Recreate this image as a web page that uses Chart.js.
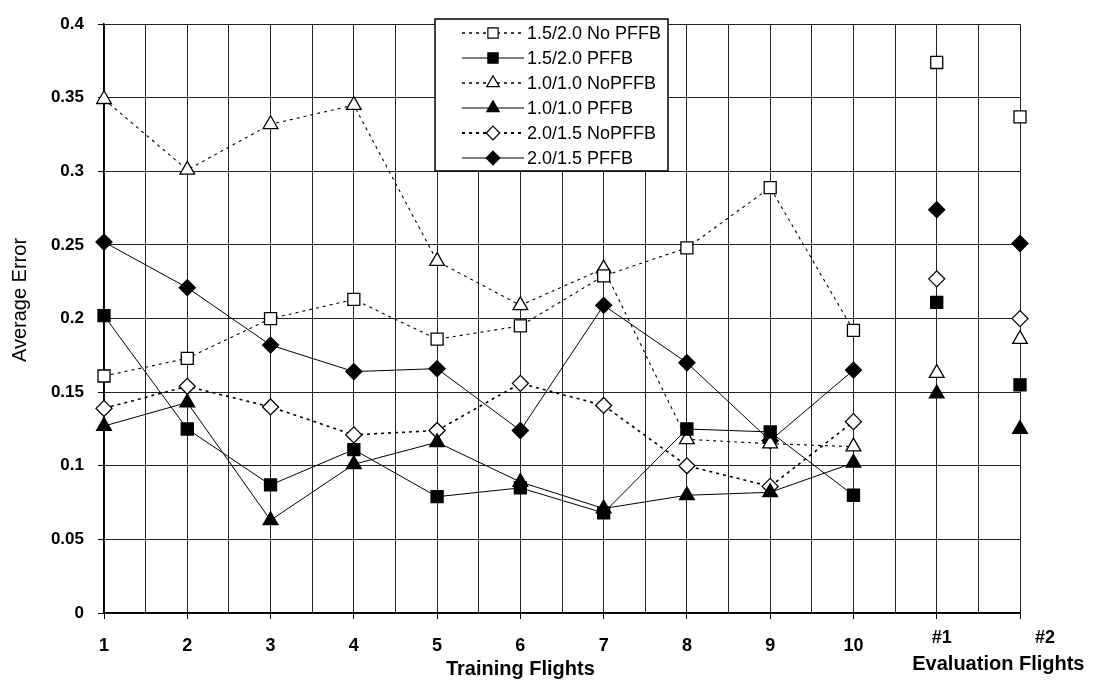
<!DOCTYPE html>
<html><head><meta charset="utf-8">
<script src="https://cdn.jsdelivr.net/npm/chart.js@4/dist/chart.umd.min.js"></script>
<style>html,body{margin:0;padding:0;background:#fff}#wrap{width:1094px;height:680px}</style>
</head><body><div id="wrap"><canvas id="c" width="1094" height="680"></canvas></div>
<script>
// ---- data ----
const flights = ['1','2','3','4','5','6','7','8','9','10','#1','#2'];
const trainingCount = 10;
const yTickLabels = ['0','0.05','0.1','0.15','0.2','0.25','0.3','0.35','0.4'];
const seriesNames = ['1.5/2.0 No PFFB','1.5/2.0 PFFB','1.0/1.0 NoPFFB','1.0/1.0 PFFB','2.0/1.5 NoPFFB','2.0/1.5 PFFB'];
const s15_20_no = [0.161, 0.173, 0.200, 0.213, 0.186, 0.195, 0.229, 0.248, 0.289, 0.192, 0.374, 0.337];
const s15_20_pf = [0.202, 0.125, 0.087, 0.111, 0.079, 0.085, 0.068, 0.125, 0.123, 0.080, 0.211, 0.155];
const s10_10_no = [0.349, 0.301, 0.332, 0.345, 0.239, 0.209, 0.234, 0.118, 0.115, 0.113, 0.163, 0.186];
const s10_10_pf = [0.127, 0.143, 0.063, 0.101, 0.116, 0.089, 0.071, 0.080, 0.082, 0.102, 0.149, 0.125];
const s20_15_no = [0.139, 0.154, 0.140, 0.121, 0.124, 0.156, 0.141, 0.100, 0.086, 0.130, 0.227, 0.200];
const s20_15_pf = [0.252, 0.221, 0.182, 0.164, 0.166, 0.124, 0.209, 0.170, 0.117, 0.165, 0.274, 0.251];
const xTitleTraining = 'Training Flights';
const xTitleEval = 'Evaluation Flights';
const yTitle = 'Average Error';

// ---- build ----
const FONT = '"Liberation Sans", Arial, sans-serif';
function pts(arr){ return arr.map((v,i)=>({x:i+1, y:v})); }
const styles = [
  {data:s15_20_no, style:'rect', fill:'#fff', dash:[3,4], bw:1.1, r:8.5},
  {data:s15_20_pf, style:'rect', fill:'#000', dash:[], bw:1, r:8.5},
  {data:s10_10_no, style:'triangle', fill:'#fff', dash:[3,4], bw:1.1, r:8.5},
  {data:s10_10_pf, style:'triangle', fill:'#000', dash:[], bw:1, r:8.5},
  {data:s20_15_no, style:'rectRot', fill:'#fff', dash:[3,4], bw:1.6, r:8},
  {data:s20_15_pf, style:'rectRot', fill:'#000', dash:[], bw:1, r:8}
];
const datasets = styles.map((s,i)=>({
  label: seriesNames[i],
  data: pts(s.data),
  borderColor:'#000', borderWidth:s.bw, borderDash:s.dash,
  pointStyle:s.style, pointRadius:s.r, pointHoverRadius:s.r,
  pointBackgroundColor:s.fill, pointBorderColor:'#000', pointBorderWidth:1.3,
  tension:0, clip:false, fill:false,
  segment:{ borderColor: c => (c.p1.parsed.x > trainingCount ? 'rgba(0,0,0,0)' : undefined) }
}));

function drawMarker(ctx, style, x, y, r, fill){
  ctx.beginPath();
  if(style==='rect'){ const s=r*Math.SQRT1_2; ctx.rect(x-s,y-s,2*s,2*s); }
  else if(style==='triangle'){ ctx.moveTo(x, y-r); ctx.lineTo(x+r*0.866, y+r*0.5); ctx.lineTo(x-r*0.866, y+r*0.5); ctx.closePath(); }
  else { ctx.moveTo(x, y-r); ctx.lineTo(x+r, y); ctx.lineTo(x, y+r); ctx.lineTo(x-r, y); ctx.closePath(); }
  ctx.fillStyle=fill; ctx.fill(); ctx.strokeStyle='#000'; ctx.lineWidth=1.2; ctx.stroke();
}

const decor = {
  id:'decor',
  afterDraw(chart){
    const ctx = chart.ctx, xs = chart.scales.x, ys = chart.scales.y;
    ctx.save();
    // legend box
    const bx=435, by=19, bw=233, bh=152;
    ctx.fillStyle='#fff'; ctx.fillRect(bx,by,bw,bh);
    ctx.strokeStyle='#000'; ctx.lineWidth=1.5; ctx.strokeRect(bx,by,bw,bh);
    ctx.font = '18px '+FONT; ctx.textBaseline='middle'; ctx.textAlign='left';
    chart.data.datasets.forEach((ds,i)=>{
      const y = by+14+i*25;
      ctx.setLineDash(ds.borderDash); ctx.lineWidth=ds.borderWidth+0.2; ctx.strokeStyle='#000';
      ctx.beginPath(); ctx.moveTo(462,y); ctx.lineTo(524,y); ctx.stroke();
      ctx.setLineDash([]);
      drawMarker(ctx, ds.pointStyle, 493, y, ds.pointRadius*0.85, ds.pointBackgroundColor);
      ctx.fillStyle='#000'; ctx.fillText(ds.label, 527, y+1);
    });
    // evaluation tick labels and x titles
    ctx.font = 'bold 18px '+FONT; ctx.textAlign='center'; ctx.fillStyle='#000';
    ctx.fillText(flights[10], xs.getPixelForValue(11)+5, xs.bottom-42);
    ctx.fillText(flights[11], xs.getPixelForValue(12)+25, xs.bottom-42);
    ctx.font = 'bold 20px '+FONT;
    ctx.fillText(xTitleTraining, xs.getPixelForValue(6), xs.bottom-11);
    ctx.fillText(xTitleEval, (xs.getPixelForValue(11)+xs.getPixelForValue(12))/2+20, xs.bottom-16);
    // y title
    ctx.translate(20, 300);
    ctx.rotate(-Math.PI/2);
    ctx.font = '20px '+FONT;
    ctx.fillText(yTitle, 0, 0);
    ctx.restore();
  }
};

new Chart(document.getElementById('c'), {
  type:'line',
  data:{ datasets },
  options:{
    responsive:false, animation:false, devicePixelRatio:1,
    layout:{ padding:{ left:0, top:18, right:74, bottom:0 } },
    plugins:{ legend:{display:false}, tooltip:{enabled:false} },
    scales:{
      x:{
        type:'linear', min:1, max:12,
        afterFit: s => { s.height = 67; },
        ticks:{ stepSize:0.5, autoSkip:false, maxRotation:0, padding:16, color:'#000',
          font:{ family:FONT, size:18, weight:'bold' },
          callback: v => (Number.isInteger(v) && v <= trainingCount ? flights[v-1] : '') },
        grid:{ color:'#222', lineWidth:1, tickLength:6,
          tickColor: c => (c.tick && Number.isInteger(c.tick.value) ? '#000' : 'rgba(0,0,0,0)') },
        border:{ color:'#000', width:1.5 }
      },
      y:{
        min:0, max:0.4,
        afterFit: s => { s.width = 104; },
        ticks:{ stepSize:0.05, padding:14, color:'#000',
          font:{ family:FONT, size:17, weight:'bold' },
          callback: v => yTickLabels[Math.round(v/0.05)] },
        grid:{ color:'#222', lineWidth:1, tickLength:6, tickColor:'#000' },
        border:{ color:'#000', width:1.5 }
      }
    }
  },
  plugins:[decor]
});
</script>
</body></html>
